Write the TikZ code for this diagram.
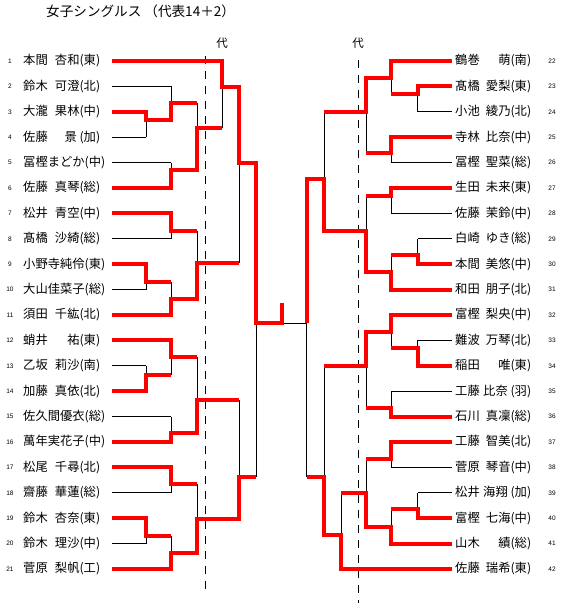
\documentclass[tikz,border=0pt]{standalone}
\usepackage{fontspec}
\newfontfamily\jp{Noto Sans CJK JP}
\newfontfamily\numf{Liberation Sans}
\newcommand\mtch[5]{\draw[bline] (#1,#2) -- (#1,#3) (#1,#4) -- (#5,#4);}
\begin{document}
\begin{tikzpicture}[x=1pt,y=-1pt,
  bline/.style={black,line width=0.8pt},
  rline/.style={red,line width=4pt,line join=miter},
  dline/.style={black,line width=0.8pt,dash pattern=on 8pt off 7pt},
  pname/.style={font=\jp\fontsize{12.3}{13}\selectfont,inner sep=0pt,anchor=west},
  pnum/.style={font=\numf\fontsize{6.5}{7}\selectfont,inner sep=0pt},
  dai/.style={font=\jp\fontsize{11.5}{12}\selectfont,inner sep=0pt},
]
\useasboundingbox (0,0) rectangle (564,606);

% title and labels
\node[font=\jp\fontsize{13.6}{14}\selectfont,inner sep=0pt,anchor=west] (title) at (46,11) {女子シングルス （代表14＋2）};
\node[dai] (dai1) at (222,43) {代};
\node[dai] (dai2) at (358,43) {代};

% dashed lines
\draw[dline] (205.3,56) -- (205.3,594);
\draw[dline] (358.3,60) -- (358.3,603);

% left names
\foreach \i/\t in {
 1/{本間\hfill 杏和(東)},
 2/{鈴木\hfill 可澄(北)},
 3/{大瀧\hfill 果林(中)},
 4/{佐藤\hfill 景 (加)},
 5/{冨樫まどか(中)},
 6/{佐藤\hfill 真琴(総)},
 7/{松井\hfill 青空(中)},
 8/{髙橋\hfill 沙綺(総)},
 9/{小野寺純伶(東)},
 10/{大山佳菜子(総)},
 11/{須田\hfill 千紘(北)},
 12/{蛸井\hfill 祐(東)},
 13/{乙坂\hfill 莉沙(南)},
 14/{加藤\hfill 真依(北)},
 15/{佐久間優衣(総)},
 16/{萬年実花子(中)},
 17/{松尾\hfill 千尋(北)},
 18/{齋藤\hfill 華蓮(総)},
 19/{鈴木\hfill 杏奈(東)},
 20/{鈴木\hfill 理沙(中)},
 21/{菅原\hfill 梨帆(工)}}{
 \node[pnum] (n\i) at (10,{61+(\i-1)*25.4}) {\i};
 \node[pname] (p\i) at (23,{61+(\i-1)*25.4}) {\makebox[77pt][l]{\t}};
}
% right names
\foreach \i/\t in {
 22/{鶴巻\hfill 萌(南)},
 23/{髙橋\hfill 愛梨(東)},
 24/{小池\hfill 綾乃(北)},
 25/{寺林\hfill 比奈(中)},
 26/{冨樫\hfill 聖菜(総)},
 27/{生田\hfill 未来(東)},
 28/{佐藤\hfill 茉鈴(中)},
 29/{白崎\hfill ゆき(総)},
 30/{本間\hfill 美悠(中)},
 31/{和田\hfill 朋子(北)},
 32/{富樫\hfill 梨央(中)},
 33/{難波\hfill 万琴(北)},
 34/{稲田\hfill 唯(東)},
 35/{工藤\hfill 比奈 (羽)},
 36/{石川\hfill 真凜(総)},
 37/{工藤\hfill 智美(北)},
 38/{菅原\hfill 琴音(中)},
 39/{松井\hfill 海翔 (加)},
 40/{富樫\hfill 七海(中)},
 41/{山木\hfill 績(総)},
 42/{佐藤\hfill 瑞希(東)}}{
 \node[pname] (p\i) at (455,{61+(\i-22)*25.4}) {\makebox[76pt][l]{\t}};
 \node[pnum] (n\i) at (552,{61+(\i-22)*25.4}) {\i};
}

% black player lines
\foreach \i/\xe in {1/222,2/171,3/146,4/146,5/171,6/171,7/171,8/171,9/146,10/146,11/171,12/171,13/146,14/146,15/171,16/171,17/171,18/171,19/146,20/146,21/171}
 \draw[bline] (112,{61+(\i-1)*25.4}) -- (\xe,{61+(\i-1)*25.4});
\foreach \i/\xe in {22/391,23/417.7,24/417.7,25/391,26/391,27/391,28/391,29/417.7,30/417.7,31/391,32/391,33/417.7,34/417.7,35/391,36/391,37/391,38/391,39/417.7,40/417.7,41/391,42/341}
 \draw[bline] (451.7,{61+(\i-22)*25.4}) -- (\xe,{61+(\i-22)*25.4});

% black bracket (left)
\mtch{146}{111.8}{137.2}{120}{171}
\mtch{171}{86.4}{120}{103.3}{197}
\mtch{171}{162.6}{188}{170}{197}
\mtch{197}{103.3}{170}{128.3}{222}
\mtch{222}{61}{128.3}{86.7}{239}
\mtch{171}{213.4}{238.8}{230.7}{197}
\mtch{146}{264.2}{289.6}{281.7}{171}
\mtch{171}{281.7}{315}{299}{197}
\mtch{197}{230.7}{299}{263.3}{239}
\mtch{239}{86.7}{263.3}{162.7}{256}
\mtch{146}{365.8}{391.2}{375}{171}
\mtch{171}{340.4}{375}{357.3}{197}
\mtch{171}{416.6}{442}{433.3}{197}
\mtch{197}{357.3}{433.3}{400}{239}
\mtch{171}{467.4}{492.8}{484}{197}
\mtch{146}{518.2}{543.6}{535.7}{171}
\mtch{171}{535.7}{569}{553.3}{197}
\mtch{197}{484}{553.3}{519}{239}
\mtch{239}{400}{519}{477.3}{256}
\mtch{256}{162.7}{477.3}{323.3}{306.7}
% black bracket (right)
\mtch{417.7}{86.4}{111.8}{94.3}{391}
\mtch{391}{61}{94.3}{78.3}{366}
\mtch{391}{137.2}{162.6}{153.3}{366}
\mtch{366}{78.3}{153.3}{111.7}{324.3}
\mtch{391}{188}{213.4}{196}{366}
\mtch{417.7}{238.8}{264.2}{255}{391}
\mtch{391}{255}{289.6}{272.3}{366}
\mtch{366}{196}{272.3}{230.7}{324.3}
\mtch{324.3}{111.7}{230.7}{179.3}{306.7}
\mtch{417.7}{340.4}{365.8}{348.3}{391}
\mtch{391}{315}{348.3}{331.7}{366}
\mtch{391}{391.2}{416.6}{408.3}{366}
\mtch{366}{331.7}{408.3}{366}{324.3}
\mtch{391}{442}{467.4}{459.3}{366}
\mtch{417.7}{492.8}{518.2}{509.3}{391}
\mtch{391}{509.3}{543.6}{526.7}{366}
\mtch{366}{459.3}{526.7}{493.3}{341}
\mtch{341}{493.3}{569}{535}{324.3}
\mtch{324.3}{366}{535}{476.7}{306.7}
\draw[bline] (306.7,179.3) -- (306.7,476.7);

% red winner paths (left)
\draw[rline] (112,61)--(222,61)--(222,86.7)--(239,86.7)--(239,162.7)--(256,162.7)--(256,323.3)--(282,323.3)--(282,302.7);
\draw[rline] (112,111.8)--(146,111.8)--(146,120)--(171,120)--(171,103.3)--(197,103.3);
\draw[rline] (112,188)--(171,188)--(171,170)--(197,170)--(197,128.3)--(222,128.3);
\draw[rline] (112,213.4)--(171,213.4)--(171,230.7)--(197,230.7);
\draw[rline] (112,264.2)--(146,264.2)--(146,281.7)--(171,281.7);
\draw[rline] (112,315)--(171,315)--(171,299)--(197,299)--(197,263.3)--(239,263.3);
\draw[rline] (112,340.4)--(171,340.4)--(171,357.3)--(197,357.3);
\draw[rline] (112,391.2)--(146,391.2)--(146,375)--(171,375);
\draw[rline] (112,442)--(171,442)--(171,433.3)--(197,433.3)--(197,400)--(239,400);
\draw[rline] (112,467.4)--(171,467.4)--(171,484)--(197,484);
\draw[rline] (112,518.2)--(146,518.2)--(146,535.7)--(171,535.7);
\draw[rline] (112,569)--(171,569)--(171,553.3)--(197,553.3)--(197,519)--(239,519)--(239,477.3)--(256,477.3);
% red winner paths (right)
\draw[rline] (451.7,61)--(391,61)--(391,78.3)--(366,78.3)--(366,111.7)--(324.3,111.7);
\draw[rline] (451.7,86.4)--(417.7,86.4)--(417.7,94.3)--(391,94.3);
\draw[rline] (451.7,137.2)--(391,137.2)--(391,153.3)--(366,153.3);
\draw[rline] (451.7,188)--(391,188)--(391,196)--(366,196);
\draw[rline] (451.7,264.2)--(417.7,264.2)--(417.7,255)--(391,255);
\draw[rline] (451.7,289.6)--(391,289.6)--(391,272.3)--(366,272.3)--(366,230.7)--(324.3,230.7)--(324.3,179.3)--(306.7,179.3)--(306.7,323.3);
\draw[rline] (451.7,315)--(391,315)--(391,331.7)--(366,331.7)--(366,366)--(324.3,366);
\draw[rline] (451.7,365.8)--(417.7,365.8)--(417.7,348.3)--(391,348.3);
\draw[rline] (451.7,416.6)--(391,416.6)--(391,408.3)--(366,408.3);
\draw[rline] (451.7,442)--(391,442)--(391,459.3)--(366,459.3);
\draw[rline] (451.7,518.2)--(417.7,518.2)--(417.7,509.3)--(391,509.3);
\draw[rline] (451.7,543.6)--(391,543.6)--(391,526.7)--(366,526.7)--(366,493.3)--(341,493.3);
\draw[rline] (451.7,569)--(341,569)--(341,535)--(324.3,535)--(324.3,476.7)--(306.7,476.7);
\end{tikzpicture}
\end{document}
